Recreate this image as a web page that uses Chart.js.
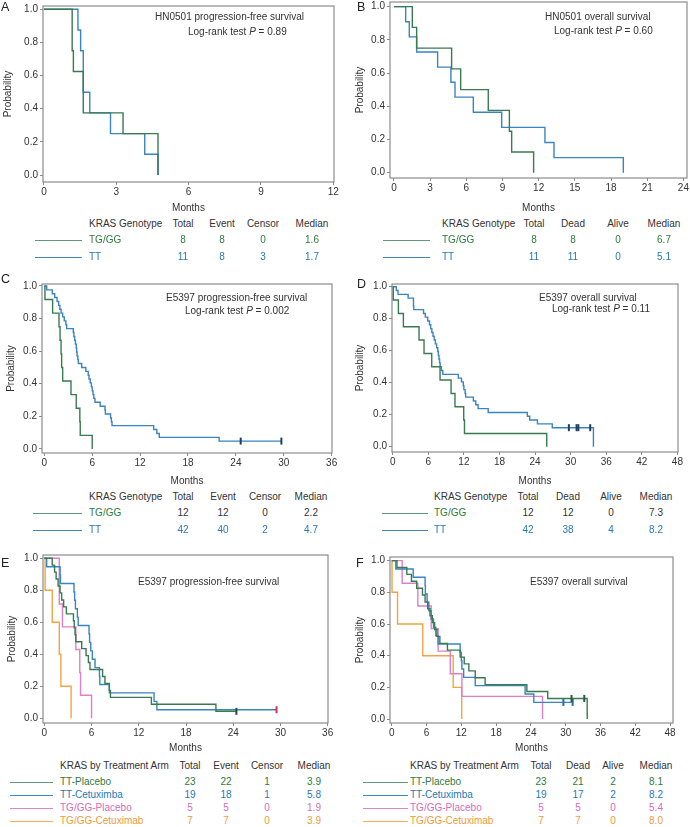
<!DOCTYPE html>
<html>
<head>
<meta charset="utf-8">
<script src="https://cdn.jsdelivr.net/npm/chart.js@4.4.1/dist/chart.umd.min.js"></script>
<style>
  body { margin: 0; width: 690px; height: 827px; overflow: hidden; background: #fff; position: relative;
         font-family: "Liberation Sans", Arial, sans-serif; color: #333; }
  canvas { position: absolute; }
  .t { position: absolute; white-space: nowrap; font-size: 10px; line-height: 12px; transform: translateY(-50%); }
  .c { transform: translate(-50%, -50%); }
  .letter { font-size: 12.5px; color: #222; }
  .ln { position: absolute; height: 0; border-top: 1.5px solid; }
</style>
</head>
<body>
<script>
// tick labels
const yTicks = [0, 0.2, 0.4, 0.6, 0.8, 1.0];
const xTicksA = [0, 3, 6, 9, 12];
const xTicksB = [0, 3, 6, 9, 12, 15, 18, 21, 24];
const xTicks36 = [0, 6, 12, 18, 24, 30, 36];
const xTicks48 = [0, 6, 12, 18, 24, 30, 36, 42, 48];

// A: HN0501 progression-free survival
const aTgTime = [0, 1.17, 1.22, 1.63, 3.28, 4.73];
const aTgSurv = [1, 0.75, 0.625, 0.375, 0.25, 0];
const aTtTime = [0, 1.41, 1.52, 1.63, 1.9, 2.76, 4.18, 4.73];
const aTtSurv = [1, 0.875, 0.75, 0.5, 0.375, 0.25, 0.125, 0];

// B: HN0501 overall survival
const bTgTime = [0, 1.52, 1.88, 4.78, 5.53, 7.82, 9.57, 9.76, 11.58];
const bTgSurv = [1, 0.875, 0.75, 0.625, 0.5, 0.375, 0.25, 0.125, 0];
const bTtTime = [0, 0.97, 1.27, 1.88, 3.62, 4.72, 5.06, 6.58, 8.93, 12.52, 13.27, 19.02];
const bTtSurv = [1, 0.909, 0.818, 0.727, 0.636, 0.545, 0.455, 0.364, 0.273, 0.182, 0.091, 0];

// C: E5397 progression-free survival
const cTgTime = [0, 0.08, 1.04, 1.84, 1.97, 2.1, 2.17, 2.3, 3.34, 4.0, 4.45, 4.5, 6.0];
const cTgSurv = [1, 0.917, 0.833, 0.75, 0.667, 0.583, 0.5, 0.417, 0.333, 0.25, 0.167, 0.083, 0];
const cTtTime = [0, 0.3, 1.0, 1.3, 1.6, 1.8, 1.95, 2.1, 2.3, 2.5, 2.7, 2.8, 3.63, 3.7, 3.8, 3.9, 4.0, 4.05, 4.1, 4.2, 4.26,
                 4.68, 5.2, 5.5, 5.6, 5.75, 5.9, 6.0, 6.1, 6.2, 6.35, 7.0, 7.6, 7.65, 8.3, 8.4, 8.48, 13.7, 14.1, 14.4, 21.9, 29.7];
const cTtSurv = [1, 0.976, 0.952, 0.929, 0.905, 0.881, 0.857, 0.833, 0.81, 0.786, 0.762, 0.738, 0.714, 0.69, 0.667, 0.643, 0.619, 0.595, 0.571, 0.548, 0.524,
                 0.5, 0.476, 0.452, 0.429, 0.405, 0.381, 0.357, 0.333, 0.31, 0.286, 0.262, 0.238, 0.214, 0.19, 0.167, 0.143, 0.119, 0.095, 0.071, 0.048, 0.048];
const cTtCensorTime = [24.6, 29.7];
const cTtCensorSurv = [0.048, 0.048];

// D: E5397 overall survival
const dTgTime = [0, 0.1, 0.96, 1.8, 4.44, 5.28, 6.58, 7.98, 9.84, 10.5, 11.97, 12.1, 25.97];
const dTgSurv = [1, 0.917, 0.833, 0.75, 0.667, 0.583, 0.5, 0.417, 0.333, 0.25, 0.167, 0.083, 0];
const dTtTime = [0, 0.6, 0.9, 2.6, 3.5, 3.55, 5.2, 5.5, 5.9, 6.2, 6.4, 6.6, 6.8, 7.0, 7.2, 7.4, 7.6, 7.7, 7.8, 7.9, 8.0, 8.2, 8.45,
                 11.07, 11.6, 11.9, 12.0, 12.2, 12.3, 13.6, 14.0, 14.4, 16.1, 22.7, 23.1, 24.4, 26.9, 33.84];
const dTtSurv = [1, 0.976, 0.952, 0.929, 0.881, 0.857, 0.833, 0.81, 0.786, 0.762, 0.738, 0.714, 0.69, 0.667, 0.643, 0.619, 0.595, 0.571, 0.548, 0.524, 0.5, 0.476, 0.452,
                 0.429, 0.405, 0.381, 0.357, 0.333, 0.31, 0.286, 0.262, 0.238, 0.214, 0.19, 0.167, 0.143, 0.119, 0];
const dTtCensorTime = [29.7, 31.0, 31.3, 33.3];
const dTtCensorSurv = [0.119, 0.119, 0.119, 0.119];

// E: E5397 progression-free survival by arm
const eTpTime = [0, 1.0, 1.3, 1.5, 1.75, 2.0, 2.2, 2.45, 2.8, 3.7, 3.8, 3.9, 4.0, 4.75, 5.3, 5.6, 5.8, 7.4, 7.7, 8.26, 8.4, 13.6, 21.8, 24.4];
const eTpSurv = [1, 0.957, 0.913, 0.87, 0.826, 0.783, 0.739, 0.696, 0.652, 0.609, 0.565, 0.522, 0.478, 0.435, 0.391, 0.348, 0.304, 0.261, 0.217, 0.174, 0.13, 0.087, 0.043, 0.043];
const eTcTime = [0, 0.3, 2.0, 2.05, 3.77, 3.85, 3.95, 4.2, 4.3, 5.68, 5.75, 5.9, 6.1, 6.44, 7.0, 7.05, 8.26, 13.94, 14.3, 29.5];
const eTcSurv = [1, 0.947, 0.895, 0.842, 0.789, 0.737, 0.684, 0.632, 0.579, 0.526, 0.474, 0.421, 0.368, 0.316, 0.263, 0.211, 0.158, 0.105, 0.053, 0.053];
const eGpTime = [0, 1.9, 2.3, 4.0, 4.5, 4.6, 6.0];
const eGpSurv = [1, 0.714, 0.571, 0.429, 0.286, 0.143, 0];
const eGcTime = [0, 0.1, 1.0, 1.9, 2.1, 3.4];
const eGcSurv = [1, 0.8, 0.6, 0.4, 0.2, 0];
const eTpCensorTime = [24.4];
const eTpCensorSurv = [0.043];
const eTcCensorTime = [29.5];
const eTcCensorSurv = [0.053];

// F: E5397 overall survival by arm
const fTpTime = [0, 0.9, 2.6, 3.4, 4.3, 5.3, 5.75, 6.2, 6.6, 7.0, 7.4, 7.8, 8.3, 9.6, 11.8, 12.5, 13.3, 14.4, 16.1, 23.3, 26.9, 33.7];
const fTpSurv = [1, 0.957, 0.913, 0.87, 0.826, 0.783, 0.739, 0.696, 0.652, 0.609, 0.565, 0.522, 0.478, 0.435, 0.391, 0.348, 0.304, 0.261, 0.217, 0.174, 0.13, 0];
const fTcTime = [0, 0.7, 3.7, 5.75, 5.8, 6.1, 6.4, 6.8, 7.2, 7.6, 8.0, 11.8, 12.0, 12.1, 12.4, 14.4, 23.0, 24.5, 31.2];
const fTcSurv = [1, 0.947, 0.895, 0.842, 0.789, 0.737, 0.684, 0.632, 0.579, 0.526, 0.474, 0.421, 0.368, 0.316, 0.263, 0.211, 0.158, 0.105, 0.105];
const fGpTime = [0, 1.8, 4.5, 6.8, 8.0, 10.1, 12.1, 26.0];
const fGpSurv = [1, 0.857, 0.714, 0.571, 0.429, 0.286, 0.143, 0];
const fGcTime = [0, 0.05, 1.0, 5.35, 10.6, 12.07];
const fGcSurv = [1, 0.8, 0.6, 0.4, 0.2, 0];
const fTpCensorTime = [31.0, 33.2];
const fTpCensorSurv = [0.13, 0.13];
const fTcCensorTime = [29.6, 31.2];
const fTcCensorSurv = [0.105, 0.105];

// tables
const pfsHead = ['KRAS Genotype', 'Total', 'Event', 'Censor', 'Median'];
const osHead = ['KRAS Genotype', 'Total', 'Dead', 'Alive', 'Median'];
const armPfsHead = ['KRAS by Treatment Arm', 'Total', 'Event', 'Censor', 'Median'];
const armOsHead = ['KRAS by Treatment Arm', 'Total', 'Dead', 'Alive', 'Median'];
const aRows = [['TG/GG', '8', '8', '0', '1.6'], ['TT', '11', '8', '3', '1.7']];
const bRows = [['TG/GG', '8', '8', '0', '6.7'], ['TT', '11', '11', '0', '5.1']];
const cRows = [['TG/GG', '12', '12', '0', '2.2'], ['TT', '42', '40', '2', '4.7']];
const dRows = [['TG/GG', '12', '12', '0', '7.3'], ['TT', '42', '38', '4', '8.2']];
const eRows = [['TT-Placebo', '23', '22', '1', '3.9'], ['TT-Cetuximba', '19', '18', '1', '5.8'],
               ['TG/GG-Placebo', '5', '5', '0', '1.9'], ['TG/GG-Cetuximab', '7', '7', '0', '3.9']];
const fRows = [['TT-Placebo', '23', '21', '2', '8.1'], ['TT-Cetuximba', '19', '17', '2', '8.2'],
               ['TG/GG-Placebo', '5', '5', '0', '5.4'], ['TG/GG-Cetuximab', '7', '7', '0', '8.0']];

const GREEN = '#3a7a52', BLUE = '#3a84c0', PINK = '#dd80c8', ORANGE = '#f2a444';
const TXT = { g: '#2e7a3e', b: '#2878b5', p: '#d66cba', o: '#ee9a3a', k: '#333' };
const LEG = { g: '#5f9a78', b: '#3f86bf', p: '#e083cf', o: '#f4ac55' };
const FONT = { family: '"Liberation Sans", Arial, sans-serif', size: 10 };

const pts = (xs, ys) => xs.map((x, i) => ({ x, y: ys[i] }));

function addText(html, x, y, cls, color) {
  const d = document.createElement('div');
  d.className = 't ' + (cls || '');
  d.style.left = x + 'px';
  d.style.top = y + 'px';
  if (color) d.style.color = color;
  d.innerHTML = html;
  document.body.appendChild(d);
}

const boxPlugin = {
  id: 'box',
  beforeDatasetsDraw(chart) {
    const { ctx, chartArea: a } = chart;
    ctx.save();
    ctx.strokeStyle = '#8c8c8c';
    ctx.lineWidth = 1.2;
    ctx.strokeRect(a.left, a.top, a.right - a.left, a.bottom - a.top);
    ctx.restore();
  }
};

function drawPanel(p) {
  const cv = document.createElement('canvas');
  cv.width = p.cw; cv.height = p.ch;
  cv.style.left = p.cl + 'px'; cv.style.top = p.ct + 'px';
  document.body.appendChild(cv);

  const datasets = [];
  p.censors.forEach(([xs, ys, color]) => datasets.push({
    data: pts(xs, ys), showLine: false, pointStyle: 'line', pointRotation: 90,
    pointRadius: 3.5, pointBorderWidth: 2, pointBorderColor: color, borderColor: color
  }));
  p.lines.forEach(([xs, ys, color]) => datasets.push({
    data: pts(xs, ys), stepped: 'before', borderColor: color, borderWidth: 1.4,
    pointRadius: 0, fill: false
  }));

  const gridOpts = { drawOnChartArea: false, tickLength: 3, color: '#8c8c8c', lineWidth: 1 };
  new Chart(cv, {
    type: 'line',
    data: { datasets },
    options: {
      responsive: false,
      animation: false,
      layout: { padding: { left: 0, top: p.box.t - p.ct, right: p.cl + p.cw - p.box.r, bottom: 0 } },
      plugins: { legend: { display: false }, tooltip: { enabled: false } },
      scales: {
        x: {
          type: 'linear', min: p.x[0], max: p.x[1],
          afterFit(s) { s.height = p.ct + p.ch - p.box.b; },
          afterBuildTicks(s) { s.ticks = p.xTicks.map(v => ({ value: v })); },
          grid: gridOpts, border: { display: false },
          ticks: { font: FONT, color: '#333', padding: 1, maxRotation: 0, autoSkip: false },
          title: { display: true, text: 'Months', font: FONT, color: '#333', padding: { top: 0, bottom: 0 } }
        },
        y: {
          type: 'linear', min: p.y[0], max: p.y[1],
          afterFit(s) { s.width = p.box.l - p.cl; },
          afterBuildTicks(s) { s.ticks = yTicks.map(v => ({ value: v })); },
          grid: gridOpts, border: { display: false },
          ticks: { font: FONT, color: '#333', padding: 2, callback: v => v.toFixed(1) },
          title: { display: true, text: 'Probability', font: FONT, color: '#333', padding: { top: p.ytp, bottom: 0 } }
        }
      }
    },
    plugins: [boxPlugin]
  });

  addText(p.letter, p.lx, p.ly, 'letter');
  p.notes.forEach(([html, x, y]) => addText(html, x, y, '', '#333'));
}

function drawTable(t) {
  addText(t.head[0], t.lx, t.ys[0], '', '#333');
  t.head.slice(1).forEach((h, i) => addText(h, t.cols[i], t.ys[0], 'c', '#333'));
  t.rows.forEach((r, j) => {
    const y = t.ys[j + 1];
    const key = t.keys[j];
    const ln = document.createElement('div');
    ln.className = 'ln';
    ln.style.left = t.line[0] + 'px';
    ln.style.width = (t.line[1] - t.line[0]) + 'px';
    ln.style.top = (y - 0.5) + 'px';
    ln.style.borderTopColor = LEG[key];
    document.body.appendChild(ln);
    addText(r[0], t.lx, y, '', TXT[key]);
    const vc = (t.valKeys ? TXT[t.valKeys[j]] : TXT[key]);
    r.slice(1).forEach((v, i) => addText(v, t.cols[i], y, 'c', vc));
  });
}

const panels = [
  { letter: 'A', lx: 1, ly: 7, cl: 0, ct: -4, cw: 345, ch: 218, ytp: 2,
    box: { l: 43, r: 334, t: 6, b: 182 }, x: [-0.04, 12.03], y: [-0.042, 1.02], xTicks: xTicksA,
    lines: [[aTgTime, aTgSurv, GREEN], [aTtTime, aTtSurv, BLUE]], censors: [],
    notes: [['HN0501 progression-free survival', 155, 17], ['Log-rank test <i>P</i> = 0.89', 188, 32]] },
  { letter: 'B', lx: 357, ly: 7, cl: 345, ct: -8, cw: 350, ch: 222, ytp: 9,
    box: { l: 390, r: 687, t: 2, b: 178 }, x: [-0.33, 24.3], y: [-0.032, 1.028], xTicks: xTicksB,
    lines: [[bTgTime, bTgSurv, GREEN], [bTtTime, bTtSurv, BLUE]], censors: [],
    notes: [['HN0501 overall survival', 545, 17], ['Log-rank test <i>P</i> = 0.60', 554, 31]] },
  { letter: 'C', lx: 1, ly: 279, cl: 0, ct: 276, cw: 345, ch: 211, ytp: 5,
    box: { l: 42, r: 332, t: 284, b: 453 }, x: [-0.29, 36.04], y: [-0.025, 1.012], xTicks: xTicks36,
    lines: [[cTgTime, cTgSurv, GREEN], [cTtTime, cTtSurv, BLUE]],
    censors: [[cTtCensorTime, cTtCensorSurv, '#1f3f60']],
    notes: [['E5397 progression-free survival', 166, 298], ['Log-rank test <i>P</i> = 0.002', 185, 311]] },
  { letter: 'D', lx: 357, ly: 284, cl: 345, ct: 276, cw: 345, ch: 211, ytp: 9,
    box: { l: 392, r: 678, t: 283, b: 452 }, x: [-0.12, 48.1], y: [-0.033, 1.017], xTicks: xTicks48,
    lines: [[dTgTime, dTgSurv, GREEN], [dTtTime, dTtSurv, BLUE]],
    censors: [[dTtCensorTime, dTtCensorSurv, '#1f3f60']],
    notes: [['E5397 overall survival', 539, 298], ['Log-rank test <i>P</i> = 0.11', 552, 309]] },
  { letter: 'E', lx: 1, ly: 563, cl: 0, ct: 547, cw: 345, ch: 207, ytp: 6,
    box: { l: 43, r: 328, t: 555, b: 723 }, x: [-0.17, 36.04], y: [-0.03, 1.02], xTicks: xTicks36,
    lines: [[eTpTime, eTpSurv, GREEN], [eTcTime, eTcSurv, BLUE], [eGpTime, eGpSurv, PINK], [eGcTime, eGcSurv, ORANGE]],
    censors: [[eTpCensorTime, eTpCensorSurv, '#2a4a3a'], [eTcCensorTime, eTcCensorSurv, '#e0304a']],
    notes: [['E5397 progression-free survival', 138, 582]] },
  { letter: 'F', lx: 356, ly: 563, cl: 345, ct: 547, cw: 345, ch: 207, ytp: 9,
    box: { l: 390, r: 673, t: 557, b: 723 }, x: [-0.3, 48.5], y: [-0.025, 1.023], xTicks: xTicks48,
    lines: [[fTpTime, fTpSurv, GREEN], [fTcTime, fTcSurv, BLUE], [fGpTime, fGpSurv, PINK], [fGcTime, fGcSurv, ORANGE]],
    censors: [[fTpCensorTime, fTpCensorSurv, '#2a5a3a'], [fTcCensorTime, fTcCensorSurv, '#2a6aa8']],
    notes: [['E5397 overall survival', 530, 582]] }
];

const tables = [
  { head: pfsHead, rows: aRows, keys: ['g', 'b'], lx: 89, cols: [183, 222, 263, 312], line: [35, 82], ys: [224, 240, 257] },
  { head: osHead, rows: bRows, keys: ['g', 'b'], lx: 442, cols: [534, 573, 618, 664], line: [383, 430], ys: [224, 240, 257] },
  { head: pfsHead, rows: cRows, keys: ['g', 'b'], valKeys: ['k', 'b'], lx: 89, cols: [183, 223, 265, 311], line: [33, 82], ys: [497, 513, 530] },
  { head: osHead, rows: dRows, keys: ['g', 'b'], valKeys: ['k', 'b'], lx: 434, cols: [528, 568, 611, 656], line: [382, 428], ys: [497, 513, 530] },
  { head: armPfsHead, rows: eRows, keys: ['g', 'b', 'p', 'o'], lx: 60, cols: [190, 226, 267, 314], line: [10, 53], ys: [766, 782, 795, 808, 821] },
  { head: armOsHead, rows: fRows, keys: ['g', 'b', 'p', 'o'], lx: 410, cols: [541, 578, 613, 656], line: [363, 408], ys: [766, 782, 795, 808, 821] }
];

panels.forEach(drawPanel);
tables.forEach(drawTable);
</script>
</body>
</html>
